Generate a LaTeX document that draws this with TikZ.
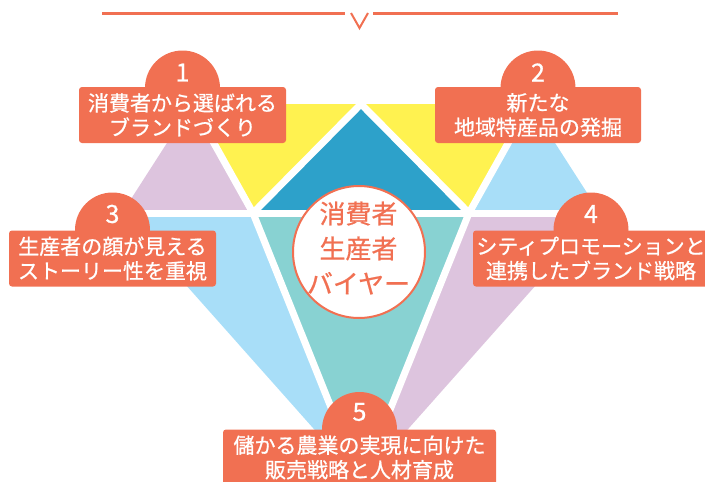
\documentclass[tikz,border=0pt]{standalone}
\usepackage{fontspec}
\setmainfont{Noto Sans CJK JP}
\newfontfamily\jpmed{Noto Sans CJK JP}[FakeBold=0.7]
\definecolor{accent}{RGB}{241,112,82}
\definecolor{gyellow}{RGB}{255,242,80}
\definecolor{gblue}{RGB}{45,161,202}
\definecolor{glav}{RGB}{221,196,222}
\definecolor{glight}{RGB}{168,222,248}
\definecolor{gteal}{RGB}{136,210,210}
\tikzset{
  gapline/.style={white,line width=7pt},
  labelbox/.style={rectangle,rounded corners=3pt,fill=accent,text=white,align=center,
    minimum height=56pt,inner sep=0pt,font=\jpmed\fontsize{21}{24.5}\selectfont},
  tab/.style={circle,fill=accent,minimum size=75pt,inner sep=0pt},
  num/.style={text=white,font=\jpmed\fontsize{25}{25}\selectfont,inner sep=0pt},
  topline/.style={accent,line width=3pt},
}
\begin{document}
\begin{tikzpicture}[x=1pt,y=-1pt]
\useasboundingbox (0,0) rectangle (705,482);
% top rule
\coordinate (la) at (102,13); \coordinate (lb) at (345,13);
\coordinate (ra) at (373,13); \coordinate (rb) at (618,13);
\coordinate (va) at (351,13); \coordinate (vb) at (359.5,28); \coordinate (vc) at (368,13);
\draw[topline] (la) -- (lb);
\draw[topline] (ra) -- (rb);
\draw[accent,line width=2pt] (va) -- (vb) -- (vc);
% gem
\coordinate (T1) at (192,104); \coordinate (M) at (361,104); \coordinate (T2) at (530,104);
\coordinate (L) at (122,213); \coordinate (G1) at (253,213); \coordinate (G2) at (469,213);
\coordinate (R) at (600,213); \coordinate (B) at (361,482);
\fill[glav] (T1) -- (L) -- (G1) -- cycle;
\fill[gyellow] (T1) -- (M) -- (G1) -- cycle;
\fill[gblue] (M) -- (G1) -- (G2) -- cycle;
\fill[gyellow] (M) -- (T2) -- (G2) -- cycle;
\fill[glight] (T2) -- (G2) -- (R) -- cycle;
\fill[glight] (L) -- (G1) -- (B) -- cycle;
\fill[gteal] (G1) -- (G2) -- (B) -- cycle;
\fill[glav] (G2) -- (R) -- (B) -- cycle;
\draw[gapline] (L) -- (R);
\draw[gapline] (T1) -- (G1);
\draw[gapline] (M) -- (G1);
\draw[gapline] (M) -- (G2);
\draw[gapline] (T2) -- (G2);
\draw[gapline] (G1) -- (B);
\draw[gapline] (G2) -- (B);
% tabs and boxes
\node[tab] (c1) at (182.5,88) {};
\node[tab] (c2) at (538,88) {};
\node[tab] (c3) at (112.5,230) {};
\node[tab] (c4) at (591,230) {};
\node[tab] (c5) at (359.5,429.5) {};
\node[num] (n1) at (182.5,72.5) {1};
\node[num] (n2) at (538,72.5) {2};
\node[num] (n3) at (112.5,214) {3};
\node[num] (n4) at (591,214) {4};
\node[num] (n5) at (359.5,412) {5};
\node[labelbox,minimum width=207pt] (b1) at (182.5,115) {消費者から選ばれる\\ブランドづくり};
\node[labelbox,minimum width=206pt] (b2) at (538,115) {新たな\\地域特産品の発掘};
\node[labelbox,minimum width=207pt] (b3) at (112.5,258.5) {生産者の顔が見える\\ストーリー性を重視};
\node[labelbox,minimum width=236pt] (b4) at (591,258.5) {シティプロモーションと\\連携したブランド戦略};
\node[labelbox,minimum width=273pt] (b5) at (359.5,457.5) {儲かる農業の実現に向けた\\販売戦略と人材育成};
% centre circle
\node[circle,draw=accent,line width=2pt,fill=white,minimum size=132pt,inner sep=0pt] (ctr) at (359,252) {};
\node[text=accent,align=center,font=\jpmed\fontsize{26}{35}\selectfont,inner sep=0pt] (ctrtext) at (358.5,248) {消費者\\生産者\\バイヤー};
\end{tikzpicture}
\end{document}
